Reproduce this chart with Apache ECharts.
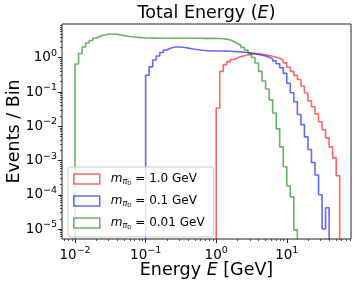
<!DOCTYPE html>
<html><head><meta charset="utf-8">
<script src="https://cdn.jsdelivr.net/npm/echarts@6/dist/echarts.min.js"></script>
<style>html,body{margin:0;padding:0;background:#fff}#c{width:357px;height:285px}</style>
</head><body><div id="c"></div>
<script>
// Histogram binning: log-spaced bins, edges at 10^(binEdgeStartExp + k/binsPerDecade)
const binEdgeStartExp = -2;
const binsPerDecade = 20;
const histFloor = 1e-9; // baseline of step histogram (below visible range)

const massLabels = ['1.0', '0.1', '0.01'];
const firstBinIndex = [40, 20, 0];

// m = 1.0 GeV
const redValues = [0.034, 0.40, 0.63, 0.77, 0.89, 0.99, 1.08, 1.15, 1.21, 1.26,
  1.29, 1.29, 1.26, 1.22, 1.16, 1.10, 1.04, 0.97, 0.86, 0.71,
  0.53, 0.40, 0.305, 0.233, 0.15, 0.094, 0.055, 0.037, 0.023, 0.0135,
  0.0079, 0.0046, 0.0025, 0.0012, 0.00036];
// m = 0.1 GeV
const blueValues = [0.31, 0.54, 0.86, 1.13, 1.43, 1.69, 1.89, 2.02, 2.06, 2.05,
  2.00, 1.93, 1.84, 1.77, 1.71, 1.66, 1.62, 1.60, 1.58, 1.58,
  1.57, 1.57, 1.56, 1.54, 1.52, 1.50, 1.48, 1.45, 1.42, 1.38,
  1.33, 1.26, 1.19, 1.12, 1.03, 0.93, 0.81, 0.67, 0.51, 0.35,
  0.18, 0.095, 0.052, 0.022, 0.0112, 0.0049, 0.0021, 0.00088, 0.00038, 0.0001,
  0.00001, 0.000042];
// m = 0.01 GeV
const greenValues = [0.66, 1.33, 2.06, 2.7, 3.19, 3.7, 4.18, 4.56, 4.8, 4.94,
  4.94, 4.8, 4.62, 4.43, 4.26, 4.12, 4.02, 3.94, 3.86, 3.8,
  3.76, 3.74, 3.73, 3.72, 3.72, 3.71, 3.71, 3.7, 3.7, 3.7,
  3.7, 3.7, 3.7, 3.7, 3.69, 3.69, 3.68, 3.68, 3.67, 3.66,
  3.65, 3.6, 3.5, 3.3, 2.98, 2.61, 2.31, 1.99, 1.69, 1.35,
  1.02, 0.705, 0.40, 0.21, 0.123, 0.059, 0.0245, 0.0084, 0.0025, 0.00066,
  0.00018, 0.000087, 0.0000095];

const seriesValues = [redValues, blueValues, greenValues];
const seriesColors = ['rgba(255,0,0,0.6)', 'rgba(0,0,255,0.6)', 'rgba(0,128,0,0.6)'];

const xRange = [0.00653, 81.3];
const yRange = [5.13e-6, 9.66];
const xMajorTicks = [0.01, 0.1, 1, 10];
const yMajorTicks = [1e-5, 1e-4, 1e-3, 1e-2, 1e-1, 1];
const minorMultipliers = [2, 3, 4, 5, 6, 7, 8, 9];

function minorTicks(range) {
  const out = [];
  for (let e = Math.floor(Math.log10(range[0])); e <= Math.ceil(Math.log10(range[1])); e++) {
    minorMultipliers.forEach(m => {
      const v = m * Math.pow(10, e);
      if (v > range[0] && v < range[1]) out.push(v);
    });
  }
  return out;
}
function edge(k) { return Math.pow(10, binEdgeStartExp + k / binsPerDecade); }
function histPoints(start, vals) {
  const pts = [[edge(start), histFloor]];
  vals.forEach((v, i) => pts.push([edge(start + i), v]));
  pts.push([edge(start + vals.length), histFloor]);
  return pts;
}

const FONT = 'DejaVu Sans';
const tickRich = {
  b: { fontFamily: FONT, fontSize: 13.5, color: '#000' },
  s: { fontFamily: FONT, fontSize: 9.5, color: '#000', lineHeight: 10, padding: [0, 0, 9, 0] }
};
function powLabel(v) {
  const e = Math.round(Math.log10(v));
  return '{b|10}{s|' + (e < 0 ? '\u2212' + (-e) : e) + '}';
}

const chart = echarts.init(document.getElementById('c'), null, { renderer: 'canvas' });
const names = massLabels.map(m => 'm' + m);
const option = {
  animation: false,
  backgroundColor: '#fff',
  title: {
    text: 'Total Energy ({i|E})', left: 206.5, top: 4, textAlign: 'center', padding: 0,
    textStyle: { fontFamily: FONT, fontSize: 17.5, fontWeight: 'normal', color: '#000',
      rich: { i: { fontFamily: FONT, fontSize: 17.5, fontStyle: 'italic', color: '#000' } } }
  },
  grid: { left: 62, top: 24, right: 6, bottom: 46, containLabel: false, outerBoundsMode: 'none',
    show: true, borderColor: '#222', borderWidth: 1, backgroundColor: 'transparent' },
  legend: {
    orient: 'vertical', left: 68, top: 167, padding: [5, 9, 6, 5], itemGap: 7,
    itemWidth: 26, itemHeight: 10,
    backgroundColor: 'rgba(255,255,255,0.8)', borderColor: '#cccccc', borderWidth: 1, borderRadius: 3,
    data: names.map((n, i) => ({ name: n, icon: 'rect',
      itemStyle: { color: 'rgba(0,0,0,0)', borderColor: seriesColors[i], borderWidth: 1.5 } })),
    formatter: function (name) {
      const i = names.indexOf(name);
      return '{m|m}{p|\u03c0}{d|D}{t| = ' + massLabels[i] + ' GeV}';
    },
    textStyle: { fontFamily: FONT, fontSize: 12, color: '#000', lineHeight: 14,
      rich: {
        m: { fontFamily: FONT, fontSize: 12, fontStyle: 'italic', color: '#000', padding: [0, 0, 0, 6] },
        p: { fontFamily: FONT, fontSize: 8, fontStyle: 'italic', color: '#000', padding: [6, 0, 0, 0] },
        d: { fontFamily: FONT, fontSize: 5.5, color: '#000', padding: [10, 0, 0, 0] },
        t: { fontFamily: FONT, fontSize: 12, color: '#000' }
      } }
  },
  xAxis: [{
    type: 'log', logBase: 10, min: xRange[0], max: xRange[1], position: 'bottom',
    axisLine: { show: false }, splitLine: { show: false },
    axisTick: { show: true, customValues: xMajorTicks, length: 4, lineStyle: { color: '#222', width: 1 } },
    axisLabel: { customValues: xMajorTicks, formatter: powLabel, rich: tickRich, margin: 9 },
    name: 'Energy {i|E} [GeV]', nameLocation: 'middle', nameGap: 22, nameMoveOverlap: false,
    nameTextStyle: { fontFamily: FONT, fontSize: 17.5, color: '#000',
      rich: { i: { fontFamily: FONT, fontSize: 17.5, fontStyle: 'italic', color: '#000' } } }
  }, {
    type: 'log', logBase: 10, min: xRange[0], max: xRange[1], position: 'bottom',
    axisLine: { show: false }, splitLine: { show: false }, axisLabel: { show: false },
    axisTick: { show: true, customValues: minorTicks(xRange), length: 2, lineStyle: { color: '#222', width: 0.8 } }
  }],
  yAxis: [{
    type: 'log', logBase: 10, min: yRange[0], max: yRange[1], position: 'left',
    axisLine: { show: false }, splitLine: { show: false },
    axisTick: { show: true, customValues: yMajorTicks, length: 4, lineStyle: { color: '#222', width: 1 } },
    axisLabel: { customValues: yMajorTicks, formatter: powLabel, rich: tickRich, margin: 5 },
    name: 'Events / Bin', nameLocation: 'middle', nameGap: 39, nameMoveOverlap: false,
    nameTextStyle: { fontFamily: FONT, fontSize: 17.5, color: '#000' }
  }, {
    type: 'log', logBase: 10, min: yRange[0], max: yRange[1], position: 'left',
    axisLine: { show: false }, splitLine: { show: false }, axisLabel: { show: false },
    axisTick: { show: true, customValues: minorTicks(yRange), length: 2, lineStyle: { color: '#222', width: 0.8 } }
  }],
  series: names.map((n, i) => ({
    name: n, type: 'line', xAxisIndex: 0, yAxisIndex: 0, step: 'end', symbol: 'none', showSymbol: false,
    clip: true, silent: true,
    lineStyle: { color: seriesColors[i], width: 1.6 }, itemStyle: { color: seriesColors[i] },
    data: histPoints(firstBinIndex[i], seriesValues[i])
  }))
};
chart.setOption(option);
</script></body></html>
